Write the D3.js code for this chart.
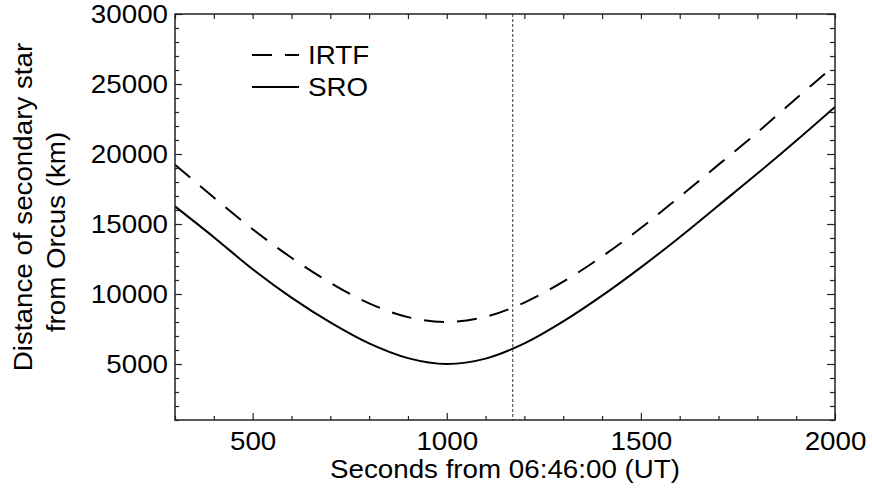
<!DOCTYPE html>
<html><head><meta charset="utf-8">
<script src="https://cdn.jsdelivr.net/npm/d3@7"></script>
<style>body{margin:0;background:#fff} text{font-family:"Liberation Sans",Arial,sans-serif;fill:#000}</style>
</head><body><svg id="c" width="872" height="488"></svg>
<script>
const seconds = [300,400,500,600,700,800,900,1000,1100,1200,1300,1400,1500,1600,1700,1800,1900,2000];
const irtf = [19240,16890,14630,12590,10800,9330,8350,8000,8370,9390,10880,12680,14715,16950,19240,21540,23965,26345];
const sro  = [16260,14060,11770,9740,7970,6470,5420,5000,5385,6470,8040,9880,11900,14060,16325,18600,20945,23360];
const xMajorTicks = [500,1000,1500,2000];
const xMinorTicks = [300,400,600,700,800,900,1100,1200,1300,1400,1600,1700,1800,1900];
const yMajorTicks = [5000,10000,15000,20000,25000,30000];
const yMinorTicks = [1000,2000,3000,4000,6000,7000,8000,9000,11000,12000,13000,14000,16000,17000,18000,19000,21000,22000,23000,24000,26000,27000,28000,29000];
const eventTime = 1170;
const legendLabels = ["IRTF","SRO"];
const xTitle = "Seconds from 06:46:00 (UT)";
const yTitle = ["Distance of secondary star","from Orcus (km)"];

const svg = d3.select("#c");
const L=175,R=835,T=14,B=420;
const SX=1.11, FS=25, AX="#222";
const x = d3.scaleLinear().domain([300,2000]).range([L,R]);
const y = d3.scaleLinear().domain([1000,30000]).range([B,T]);

svg.append("clipPath").attr("id","clip").append("rect").attr("x",L).attr("y",T).attr("width",R-L).attr("height",B-T);

const line = d3.line().x((d,i)=>x(seconds[i])).y(d=>y(d)).curve(d3.curveCatmullRom.alpha(0.5));
const g = svg.append("g").attr("clip-path","url(#clip)");
g.append("path").attr("d",line(irtf)).attr("fill","none").attr("stroke","#000").attr("stroke-width",2).attr("stroke-dasharray","20,13");
g.append("path").attr("d",line(sro)).attr("fill","none").attr("stroke","#000").attr("stroke-width",2);
g.append("line").attr("x1",x(eventTime)).attr("x2",x(eventTime)).attr("y1",T).attr("y2",B)
  .attr("stroke","#333").attr("stroke-width",1).attr("stroke-dasharray","3,2");

function styleAxis(sel){sel.select(".domain").remove();sel.selectAll(".tick line").attr("stroke",AX).attr("stroke-width",1.2);}
// bottom
svg.append("g").attr("transform",`translate(0,${B})`).call(d3.axisBottom(x).tickValues(xMinorTicks).tickSize(-4).tickFormat("")).call(styleAxis);
const xb = svg.append("g").attr("transform",`translate(0,${B})`).call(d3.axisBottom(x).tickValues(xMajorTicks).tickSize(-7).tickPadding(12).tickFormat(d3.format("d"))).call(styleAxis);
xb.selectAll("text").attr("font-size",FS).attr("font-family","Liberation Sans, Arial, sans-serif").attr("fill","#000").attr("transform",`scale(${SX},1)`);
// top
svg.append("g").attr("transform",`translate(0,${T})`).call(d3.axisTop(x).tickValues(xMinorTicks.concat(xMajorTicks)).tickSize(-5).tickFormat("")).call(styleAxis);
// left
svg.append("g").attr("transform",`translate(${L},0)`).call(d3.axisLeft(y).tickValues(yMinorTicks).tickSize(-4).tickFormat("")).call(styleAxis);
const yl = svg.append("g").attr("transform",`translate(${L},0)`).call(d3.axisLeft(y).tickValues(yMajorTicks).tickSize(-7).tickFormat(d3.format("d"))).call(styleAxis);
yl.selectAll("text").attr("x",0).attr("dy","0.35em").attr("font-size",FS).attr("font-family","Liberation Sans, Arial, sans-serif").attr("fill","#000").attr("transform",`translate(-7,0) scale(${SX},1)`);
// right
svg.append("g").attr("transform",`translate(${R},0)`).call(d3.axisRight(y).tickValues(yMinorTicks).tickSize(-5).tickFormat("")).call(styleAxis);
svg.append("g").attr("transform",`translate(${R},0)`).call(d3.axisRight(y).tickValues(yMajorTicks).tickSize(-8).tickFormat("")).call(styleAxis);
// frame
svg.append("rect").attr("x",L).attr("y",T).attr("width",R-L).attr("height",B-T).attr("fill","none").attr("stroke",AX).attr("stroke-width",1.5);

// titles
svg.append("text").attr("transform",`translate(${(L+R)/2},478) scale(${SX},1)`).attr("text-anchor","middle").attr("font-size",FS).text(xTitle);
svg.append("text").attr("transform",`translate(32,207) rotate(-90) scale(${SX},1)`).attr("text-anchor","middle").attr("font-size",FS).text(yTitle[0]);
svg.append("text").attr("transform",`translate(65,232) rotate(-90) scale(${SX},1)`).attr("text-anchor","middle").attr("font-size",FS).text(yTitle[1]);

// legend
const leg = svg.append("g");
[0,1].forEach(i=>{
  const ly = 55 + i*32;
  leg.append("line").attr("x1",252).attr("x2",299).attr("y1",ly).attr("y2",ly).attr("stroke","#000").attr("stroke-width",2)
    .attr("stroke-dasharray", i===0 ? "20,13" : null);
  leg.append("text").attr("transform",`translate(308,${ly}) scale(${SX},1)`).attr("dy","0.35em").attr("font-size",FS).text(legendLabels[i]);
});
</script></body></html>
